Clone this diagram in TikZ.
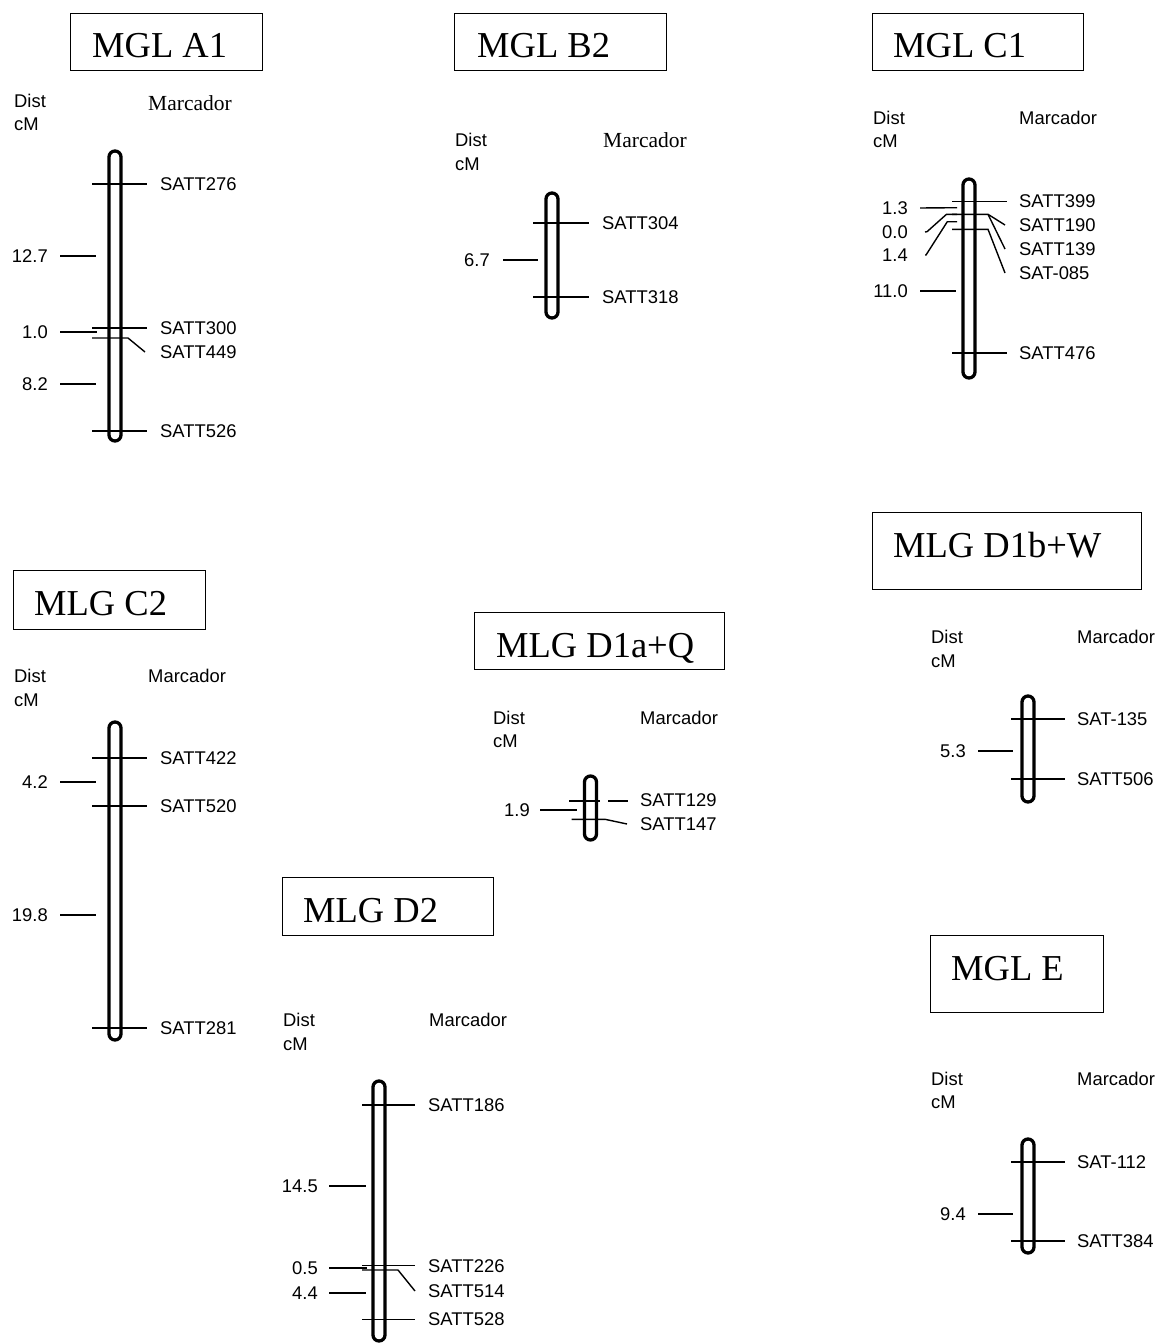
\documentclass[tikz,border=0pt]{standalone}
\usepackage{fontspec}
\setmainfont{Liberation Serif}
\newfontfamily\arialf{Liberation Sans}
\begin{document}
\begin{tikzpicture}[x=1pt,y=-1pt,
  lab/.style={font=\arialf\fontsize{18.4}{18.4}\selectfont, inner sep=0pt, anchor=west, text height=13.2pt, text depth=0pt},
  dlab/.style={lab, anchor=east},
  hdr/.style={font=\arialf\fontsize{18.4}{18.4}\selectfont, inner sep=0pt, anchor=base west},
  mser/.style={font=\fontsize{21.5}{21.5}\selectfont, inner sep=0pt, anchor=base west},
  ttl/.style={font=\fontsize{36.5}{36.5}\selectfont, inner sep=0pt, anchor=base west},
  tbox/.style={draw, line width=1.4pt, anchor=north west, inner sep=0pt},
  tick/.style={line width=1.4pt},
  chromnode/.style={draw, line width=3.3pt, rounded corners=6pt, minimum width=12pt, inner sep=0pt}
]
\useasboundingbox (0,0) rectangle (1158,1343);

% ---------------- MGL A1
\node[tbox, minimum width=192, minimum height=57] (a1box) at (70,13) {};
\node[ttl] (a1t) at (92,58) {MGL A1};
\node[hdr] (a1d) at (14,107.5) {Dist};
\node[hdr] (a1c) at (14,131) {cM};
\node[mser] (a1m) at (148,110.5) {Marcador};
\node[chromnode, minimum height=290] (a1ch) at (115,296) {};
\node[lab] (a1s1) at (160,184) {SATT276};
\node[lab] (a1s2) at (160,328) {SATT300};
\node[lab] (a1s3) at (160,352) {SATT449};
\node[lab] (a1s4) at (160,431) {SATT526};
\draw[tick] (92,184) -- ([xshift=-13]a1s1.west);
\draw[tick] (92,328) -- ([xshift=-13]a1s2.west);
\draw[tick] (92,338) -- (128,338) -- ([xshift=-15]a1s3.west);
\draw[tick] (92,431) -- ([xshift=-13]a1s4.west);
\node[dlab] (a1v1) at (48,256) {12.7};
\node[dlab] (a1v2) at (48,332) {1.0};
\node[dlab] (a1v3) at (48,384) {8.2};
\draw[tick] ([xshift=12]a1v1.east) -- (96,256);
\draw[tick] ([xshift=12]a1v2.east) -- (97,332);
\draw[tick] ([xshift=12]a1v3.east) -- (96,384);

% ---------------- MGL B2
\node[tbox, minimum width=212, minimum height=57] (b2box) at (454,13) {};
\node[ttl] (b2t) at (477,58) {MGL B2};
\node[hdr] (b2d) at (455,147) {Dist};
\node[hdr] (b2c) at (455,170.5) {cM};
\node[mser] (b2m) at (603,148) {Marcador};
\node[chromnode, minimum height=125] (b2ch) at (552,255.5) {};
\node[lab] (b2s1) at (602,223) {SATT304};
\node[lab] (b2s2) at (602,297) {SATT318};
\draw[tick] (533,223) -- ([xshift=-13]b2s1.west);
\draw[tick] (533,297) -- ([xshift=-13]b2s2.west);
\node[dlab] (b2v1) at (490,260) {6.7};
\draw[tick] ([xshift=13]b2v1.east) -- (538,260);

% ---------------- MGL C1
\node[tbox, minimum width=211, minimum height=57] (c1box) at (872,13) {};
\node[ttl] (c1t) at (893,58) {MGL C1};
\node[hdr] (c1d) at (873,124.5) {Dist};
\node[hdr] (c1c) at (873,148) {cM};
\node[hdr] (c1m) at (1019,124.5) {Marcador};
\node[chromnode, minimum height=199] (c1ch) at (969,278.5) {};
\node[lab] (c1s1) at (1019,201) {SATT399};
\node[lab] (c1s2) at (1019,225) {SATT190};
\node[lab] (c1s3) at (1019,249) {SATT139};
\node[lab] (c1s4) at (1019,273) {SAT-085};
\node[lab] (c1s5) at (1019,353) {SATT476};
\draw[tick] (952,201.7) -- (1007,201.7);
\draw[tick] (952,214.3) -- (988,214.3) -- ([xshift=-14]c1s2.west);
\draw[tick] (988,214.3) -- ([xshift=-14]c1s3.west);
\draw[tick] (952,229.3) -- (988,229.3) -- ([xshift=-14]c1s4.west);
\draw[tick] (952,353) -- ([xshift=-12]c1s5.west);
\node[dlab] (c1v1) at (908,208) {1.3};
\node[dlab] (c1v2) at (908,232) {0.0};
\node[dlab] (c1v3) at (908,255) {1.4};
\node[dlab] (c1v4) at (908,291) {11.0};
\draw[tick] ([xshift=12]c1v1.east) -- (957,207.7);
\draw[tick] ([xshift=17]c1v2.east) -- (927,231.7) -- (946.5,214.3) -- (957,214.3);
\draw[tick] ([xshift=17]c1v3.east) -- (926,255) -- (947.3,221.7) -- (957,221.7);
\draw[tick] ([xshift=12]c1v4.east) -- (956,291);

% ---------------- MLG C2
\node[tbox, minimum width=192, minimum height=59] (c2box) at (13,570) {};
\node[ttl] (c2t) at (34,615) {MLG C2};
\node[hdr] (c2d) at (14,682.5) {Dist};
\node[hdr] (c2c) at (14,706) {cM};
\node[hdr] (c2m) at (148,682.5) {Marcador};
\node[chromnode, minimum height=318] (c2ch) at (115,881) {};
\node[lab] (c2s1) at (160,758) {SATT422};
\node[lab] (c2s2) at (160,806) {SATT520};
\node[lab] (c2s3) at (160,1028) {SATT281};
\draw[tick] (92,758) -- ([xshift=-13]c2s1.west);
\draw[tick] (92,806) -- ([xshift=-13]c2s2.west);
\draw[tick] (92,1028) -- ([xshift=-13]c2s3.west);
\node[dlab] (c2v1) at (48,782) {4.2};
\node[dlab] (c2v2) at (48,915) {19.8};
\draw[tick] ([xshift=12]c2v1.east) -- (96,782);
\draw[tick] ([xshift=12]c2v2.east) -- (96,915);

% ---------------- MLG D2
\node[tbox, minimum width=211, minimum height=58] (d2box) at (282,877) {};
\node[ttl] (d2t) at (303,922) {MLG D2};
\node[hdr] (d2d) at (283,1026.5) {Dist};
\node[hdr] (d2c) at (283,1050) {cM};
\node[hdr] (d2m) at (429,1026.5) {Marcador};
\node[chromnode, minimum height=260] (d2ch) at (379,1211) {};
\node[lab] (d2s1) at (428,1105) {SATT186};
\node[lab] (d2s2) at (428,1266) {SATT226};
\node[lab] (d2s3) at (428,1291) {SATT514};
\node[lab] (d2s4) at (428,1319.3) {SATT528};
\draw[tick] (362,1105) -- ([xshift=-13]d2s1.west);
\draw[tick] (362,1265.7) -- (415,1265.7);
\draw[tick] (362,1270) -- (398,1270) -- ([xshift=-13]d2s3.west);
\draw[tick] (362,1319.3) -- ([xshift=-13]d2s4.west);
\node[dlab] (d2v1) at (318,1186) {14.5};
\node[dlab] (d2v2) at (318,1268) {0.5};
\node[dlab] (d2v3) at (318,1293) {4.4};
\draw[tick] ([xshift=11]d2v1.east) -- (366,1186);
\draw[tick] ([xshift=11]d2v2.east) -- (367,1268);
\draw[tick] ([xshift=11]d2v3.east) -- (366,1293);

% ---------------- MLG D1a+Q
\node[tbox, minimum width=250, minimum height=57] (d1abox) at (474,612) {};
\node[ttl] (d1at) at (496,657) {MLG D1a+Q};
\node[hdr] (d1ad) at (493,724) {Dist};
\node[hdr] (d1ac) at (493,747.5) {cM};
\node[hdr] (d1am) at (640,724) {Marcador};
\node[chromnode, minimum height=64] (d1ach) at (590.5,808) {};
\node[lab] (d1as1) at (640,800) {SATT129};
\node[lab] (d1as2) at (640,824) {SATT147};
\draw[tick] (569,801) -- (600,801);
\draw[tick] (608,801) -- ([xshift=-12]d1as1.west |- 0,801);
\draw[tick] (571.7,819.3) -- (605,819.3) -- ([xshift=-13]d1as2.west);
\node[dlab] (d1av1) at (530,810) {1.9};
\draw[tick] ([xshift=10]d1av1.east) -- (577,810);

% ---------------- MLG D1b+W
\node[tbox, minimum width=269, minimum height=77] (d1bbox) at (872,512) {};
\node[ttl] (d1bt) at (893,557) {MLG D1b+W};
\node[hdr] (d1bd) at (931,643.3) {Dist};
\node[hdr] (d1bc) at (931,667) {cM};
\node[hdr] (d1bm) at (1077,643.3) {Marcador};
\node[chromnode, minimum height=106] (d1bch) at (1028,749) {};
\node[lab] (d1bs1) at (1077,719) {SAT-135};
\node[lab] (d1bs2) at (1077,779) {SATT506};
\draw[tick] (1011,719) -- ([xshift=-12]d1bs1.west);
\draw[tick] (1011,779) -- ([xshift=-12]d1bs2.west);
\node[dlab] (d1bv1) at (966,751) {5.3};
\draw[tick] ([xshift=12]d1bv1.east) -- (1013,751);

% ---------------- MGL E
\node[tbox, minimum width=173, minimum height=77] (ebox) at (930,935) {};
\node[ttl] (et) at (951,980) {MGL E};
\node[hdr] (ed) at (931,1085) {Dist};
\node[hdr] (ec) at (931,1108.5) {cM};
\node[hdr] (em) at (1077,1085) {Marcador};
\node[chromnode, minimum height=114] (ech) at (1028,1196) {};
\node[lab] (es1) at (1077,1162) {SAT-112};
\node[lab] (es2) at (1077,1241) {SATT384};
\draw[tick] (1011,1162) -- ([xshift=-12]es1.west);
\draw[tick] (1011,1241) -- ([xshift=-12]es2.west);
\node[dlab] (ev1) at (966,1214) {9.4};
\draw[tick] ([xshift=12]ev1.east) -- (1013,1214);
\end{tikzpicture}
\end{document}
